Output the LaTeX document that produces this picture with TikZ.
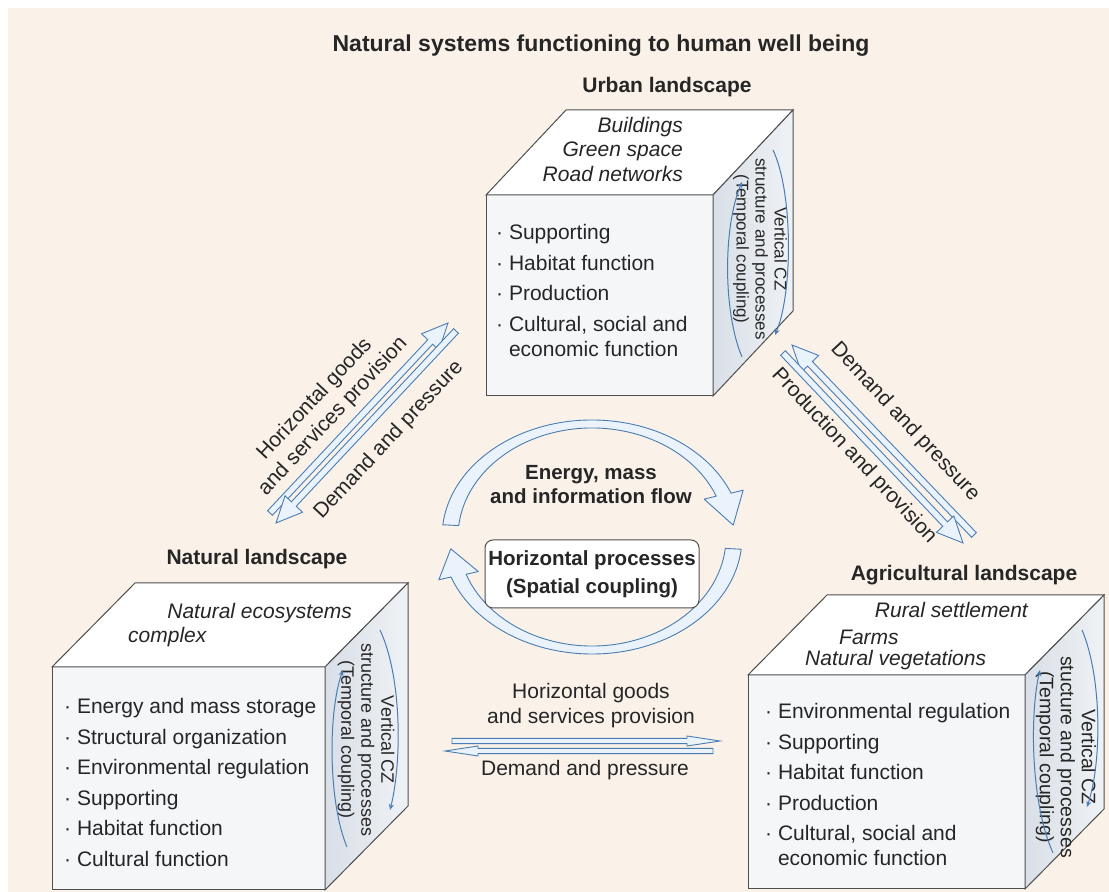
\documentclass[tikz,border=0pt]{standalone}
\usepackage{fontspec}
\setmainfont{Liberation Sans}
\usetikzlibrary{arrows.meta,calc}
\definecolor{bgbeige}{HTML}{FAF1E8}
\definecolor{edgegrey}{HTML}{4F4F4F}
\definecolor{frontfill}{HTML}{F4F6F8}
\definecolor{sidedark}{HTML}{D9DFE7}
\definecolor{sidelight}{HTML}{EFF2F5}
\definecolor{flowblue}{HTML}{4A7DB4}
\definecolor{flowfill}{HTML}{EAF3FB}
\definecolor{inkgrey}{HTML}{262626}

% hollow block arrow: [style]{from}{to}{shaft half width}{head half width}{head length}
\newcommand{\hollowarrow}[6][]{%
  \coordinate (hb) at ($(#3)!#6!(#2)$);
  \draw[#1] ($(#2)!#4!90:(#3)$) -- ($(hb)!#4!90:(#3)$) -- ($(hb)!#5!90:(#3)$)
    -- (#3) -- ($(hb)!#5!-90:(#3)$) -- ($(hb)!#4!-90:(#3)$) -- ($(#2)!#4!-90:(#3)$) -- cycle;}

\begin{document}
\begin{tikzpicture}
  [x=1pt,y=1pt,
   frontface/.style={rectangle,draw=edgegrey,fill=frontfill,line width=1pt,
                     inner sep=0,outer sep=0,anchor=north west},
   topface/.style={draw=edgegrey,fill=white,line width=1pt},
   sideface/.style={draw=edgegrey,line width=1pt,left color=sidedark,right color=sidelight},
   titletext/.style={font=\fontsize{23}{27}\selectfont\bfseries,text=inkgrey},
   landlabel/.style={font=\fontsize{21}{25}\selectfont\bfseries,text=inkgrey},
   toplist/.style={font=\fontsize{21}{24.5}\selectfont\itshape,text=inkgrey,inner sep=0},
   funclist/.style={font=\fontsize{21}{30.6}\selectfont,text=inkgrey,align=left,
                    inner sep=0,anchor=north west},
   vlabel/.style={text=inkgrey,align=center,rotate=-90,inner sep=0},
   cycleline/.style={draw=flowblue,line width=1pt,-{Stealth[length=6pt,width=5pt]}},
   cyclearrow/.style={draw=flowblue,fill=flowfill,line width=0.9pt,line join=round},
   flowtext/.style={font=\fontsize{20.5}{24}\selectfont\bfseries,text=inkgrey,align=center},
   processbox/.style={rectangle,rounded corners=8pt,draw=edgegrey,fill=white,line width=1pt,
                      minimum width=212pt,minimum height=68pt,align=center,
                      font=\fontsize{20.5}{28}\selectfont\bfseries,text=inkgrey},
   flowarrow/.style={draw=flowblue,fill=flowfill,line width=0.9pt},
   arrowtext/.style={font=\fontsize{21}{25}\selectfont,text=inkgrey,align=center}]
  \useasboundingbox (0,0) rectangle (1109,892);
  \fill[bgbeige] (8,0) rectangle (1109,884);

  \node[titletext] (title) at (601,846) {Natural systems functioning to human well being};

  % urban landscape
  \node[landlabel] (urbanlabel) at (667,805) {Urban landscape};
  \node[frontface,minimum width=227pt,minimum height=201pt] (urban) at (486,697) {};
  \draw[topface] (urban.north west) -- ++(80,85) -- ++(227,0) -- (urban.north east) -- cycle;
  \draw[sideface] (urban.north east) -- ++(80,85) -- ++(0,-201) -- (urban.south east) -- cycle;
  \node[toplist,align=right,anchor=north east] (urbantop) at (683,775)
    {Buildings\\Green space\\Road networks};
  \node[funclist] (urbanfunc) at (496,668)
    {· Supporting\\· Habitat function\\· Production\\· Cultural, social and\\[-5.6pt]\phantom{· }economic function};
  \node[vlabel,font=\fontsize{17}{19}\selectfont] (urbanvert) at (760,643)
    {Vertical CZ\\structure and processes\\(Temporal coupling)};
  \draw[cycleline] (742,535) .. controls (723,580) and (723,665) .. (742,710);
  \draw[cycleline] (773,742) .. controls (793,700) and (793,600) .. (775,557);

  % natural landscape
  \node[landlabel] (naturallabel) at (257,333) {Natural landscape};
  \node[frontface,minimum width=273pt,minimum height=223pt] (natural) at (52,225) {};
  \draw[topface] (natural.north west) -- ++(83,84) -- ++(273,0) -- (natural.north east) -- cycle;
  \draw[sideface] (natural.north east) -- ++(83,84) -- ++(0,-223) -- (natural.south east) -- cycle;
  \node[toplist,anchor=east] (naturaltop) at (352,279) {Natural ecosystems};
  \node[toplist,anchor=west] (naturaltop2) at (128,255) {complex};
  \node[funclist] (naturalfunc) at (64,194)
    {· Energy and mass storage\\· Structural organization\\· Environmental regulation\\· Supporting\\· Habitat function\\· Cultural function};
  \node[vlabel,font=\fontsize{18}{20}\selectfont] (naturalvert) at (366,152)
    {Vertical CZ\\structure and processes\\(Temporal coupling)};
  \draw[cycleline] (347,45) .. controls (328,90) and (328,180) .. (343,222);
  \draw[cycleline] (380,262) .. controls (402,215) and (402,130) .. (390,82);

  % agricultural landscape
  \node[landlabel] (agrilabel) at (964,317) {Agricultural landscape};
  \node[frontface,minimum width=277pt,minimum height=214pt] (agri) at (748,217) {};
  \draw[topface] (agri.north west) -- ++(79,80) -- ++(277,0) -- (agri.north east) -- cycle;
  \draw[sideface] (agri.north east) -- ++(79,80) -- ++(0,-214) -- (agri.south east) -- cycle;
  \node[toplist,anchor=east] (agritop) at (1028,282) {Rural settlement};
  \node[toplist,anchor=west] (agritop2) at (839,255) {Farms};
  \node[toplist,anchor=west] (agritop3) at (805,232) {Natural vegetations};
  \node[funclist] (agrifunc) at (765,189)
    {· Environmental regulation\\· Supporting\\· Habitat function\\· Production\\· Cultural, social and\\[-5.6pt]\phantom{· }economic function};
  \node[vlabel,font=\fontsize{19.5}{21}\selectfont] (agrivert) at (1066,135)
    {Vertical CZ\\stucture and processes\\(Temporal coupling)};
  \draw[cycleline] (1053,39) .. controls (1030,90) and (1030,180) .. (1040,222);
  \draw[cycleline] (1082,262) .. controls (1102,215) and (1102,130) .. (1087,85);

  % horizontal processes
  \coordinate (hub) at (592,355);
  \draw[cyclearrow] ([shift={(174:134 and 109)}]hub) -- ([shift={(174:150 and 117)}]hub)
    arc[start angle=174,end angle=22,x radius=150,y radius=117]
    -- ([shift={(22:163 and 125)}]hub) -- ([shift={(6:142 and 113)}]hub)
    -- ([shift={(22:121 and 101)}]hub) -- ([shift={(22:134 and 109)}]hub)
    arc[start angle=22,end angle=174,x radius=134,y radius=109] -- cycle;
  \draw[cyclearrow] ([shift={(-6:134 and 109)}]hub) -- ([shift={(-6:150 and 117)}]hub)
    arc[start angle=-6,end angle=-160,x radius=150,y radius=117]
    -- ([shift={(-160:163 and 125)}]hub) -- ([shift={(-174:142 and 113)}]hub)
    -- ([shift={(-160:121 and 101)}]hub) -- ([shift={(-160:134 and 109)}]hub)
    arc[start angle=-160,end angle=-6,x radius=134,y radius=109] -- cycle;
  \node[flowtext] (energy) at (591,407) {Energy, mass\\and information flow};
  \node[processbox] (process) at (592,318) {Horizontal processes\\(Spatial coupling)};

  % natural <-> urban
  \coordinate (natout) at (270,379);
  \coordinate (urbin) at (448,569);
  \coordinate (urbout) at (456,561);
  \coordinate (natin) at (276,369);
  \hollowarrow[flowarrow]{natout}{urbin}{3.3pt}{12pt}{26pt}
  \hollowarrow[flowarrow]{urbout}{natin}{3.3pt}{12pt}{26pt}
  \node[arrowtext,rotate=47] (nuprov) at (324,484) {Horizontal goods\\and services provision};
  \node[arrowtext,rotate=47] (nudemand) at (389,452) {Demand and pressure};

  % agricultural <-> urban
  \coordinate (agrout) at (974,357);
  \coordinate (urbin2) at (792,547);
  \coordinate (urbout2) at (783,539);
  \coordinate (agrin) at (963,349);
  \hollowarrow[flowarrow]{agrout}{urbin2}{3.3pt}{12pt}{26pt}
  \hollowarrow[flowarrow]{urbout2}{agrin}{3.3pt}{12pt}{26pt}
  \node[arrowtext,rotate=-47] (uademand) at (905,470) {Demand and pressure};
  \node[arrowtext,rotate=-47] (uaprod) at (854,436) {Production and provision};

  % natural <-> agricultural
  \coordinate (natout2) at (452,151);
  \coordinate (agrin2) at (720,151);
  \coordinate (agrout2) at (713,141);
  \coordinate (natin2) at (445,141);
  \hollowarrow[flowarrow]{natout2}{agrin2}{2.6pt}{5pt}{33pt}
  \hollowarrow[flowarrow]{agrout2}{natin2}{2.6pt}{5pt}{33pt}
  \node[arrowtext] (naprov) at (591,186) {Horizontal goods\\and services provision};
  \node[arrowtext] (nademand) at (585,122) {Demand and pressure};
\end{tikzpicture}
\end{document}
